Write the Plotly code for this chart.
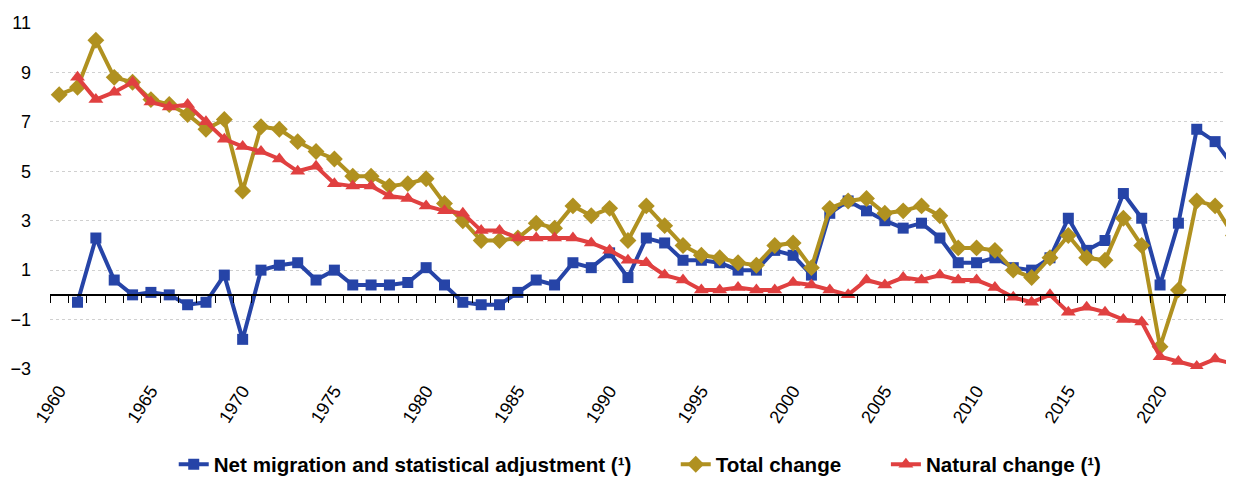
import plotly.graph_objects as go

years = list(range(1960, 2025))

net_migration = [None, -0.3, 2.3, 0.6, 0.0, 0.1, 0.0, -0.4, -0.3, 0.8,
                 -1.8, 1.0, 1.2, 1.3, 0.6, 1.0, 0.4, 0.4, 0.4, 0.5,
                 1.1, 0.4, -0.3, -0.4, -0.4, 0.1, 0.6, 0.4, 1.3, 1.1,
                 1.7, 0.7, 2.3, 2.1, 1.4, 1.4, 1.3, 1.0, 1.0, 1.8,
                 1.6, 0.8, 3.3, 3.8, 3.4, 3.0, 2.7, 2.9, 2.3, 1.3,
                 1.3, 1.5, 1.1, 1.0, 1.5, 3.1, 1.8, 2.2, 4.1, 3.1,
                 0.4, 2.9, 6.7, 6.2, 5.2]

total_change = [8.1, 8.4, 10.3, 8.8, 8.6, 7.9, 7.7, 7.3, 6.7, 7.1,
                4.2, 6.8, 6.7, 6.2, 5.8, 5.5, 4.8, 4.8, 4.4, 4.5,
                4.7, 3.7, 3.0, 2.2, 2.2, 2.3, 2.9, 2.7, 3.6, 3.2,
                3.5, 2.2, 3.6, 2.8, 2.0, 1.6, 1.5, 1.3, 1.2, 2.0,
                2.1, 1.1, 3.5, 3.8, 3.9, 3.3, 3.4, 3.6, 3.2, 1.9,
                1.9, 1.8, 1.0, 0.7, 1.5, 2.4, 1.5, 1.4, 3.1, 2.0,
                -2.1, 0.2, 3.8, 3.6, 2.4]

natural_change = [None, 8.8, 7.9, 8.2, 8.6, 7.8, 7.6, 7.7, 7.0, 6.3,
                  6.0, 5.8, 5.5, 5.0, 5.2, 4.5, 4.4, 4.4, 4.0, 3.9,
                  3.6, 3.4, 3.3, 2.6, 2.6, 2.3, 2.3, 2.3, 2.3, 2.1,
                  1.8, 1.4, 1.3, 0.8, 0.6, 0.2, 0.2, 0.3, 0.2, 0.2,
                  0.5, 0.4, 0.2, 0.0, 0.6, 0.4, 0.7, 0.6, 0.8, 0.6,
                  0.6, 0.3, -0.1, -0.3, 0.0, -0.7, -0.5, -0.7, -1.0, -1.1,
                  -2.5, -2.7, -2.9, -2.6, -2.8]

label_years = list(range(1960, 2021, 5))
label_text = [str(y) for y in label_years]
y_ticks = [-3, -1, 1, 3, 5, 7, 9, 11]
minor_ticks = [y - 0.5 for y in range(1960, 2026)]

BLUE = "#2644A7"
GOLD = "#B09120"
RED = "#E04040"
FONT = "Liberation Sans, Arial, sans-serif"

fig = go.Figure()
# invisible helper trace so the zero-line axis (x2) with its tick marks is rendered
fig.add_trace(go.Scatter(
    x=years, y=total_change, xaxis="x2", mode="lines", opacity=0,
    line=dict(width=0), showlegend=False, hoverinfo="skip"))
fig.add_trace(go.Scatter(
    x=years, y=net_migration, name="Net migration and statistical adjustment (¹)",
    mode="lines+markers", line=dict(color=BLUE, width=4), legend="legend",
    marker=dict(symbol="square", size=11, color=BLUE)))
fig.add_trace(go.Scatter(
    x=years, y=total_change, name="Total change",
    mode="lines+markers", line=dict(color=GOLD, width=4), legend="legend2",
    marker=dict(symbol="diamond", size=13, color=GOLD)))
fig.add_trace(go.Scatter(
    x=years, y=natural_change, name="Natural change (¹)",
    mode="lines+markers", line=dict(color=RED, width=4), legend="legend3",
    marker=dict(symbol="triangle-up", size=13, color=RED)))

x_range = [1959.5, 2024.03]
y_range = [-3, 11]

legend_font = dict(family=FONT, size=20.6, color="#000000", weight="bold")
legend_common = dict(orientation="h", y=-0.2757, yanchor="middle", xanchor="left",
                     font=legend_font, bgcolor="rgba(0,0,0,0)")

fig.update_layout(
    width=1226, height=477,
    margin=dict(l=42, r=0, t=15, b=114, pad=0),
    paper_bgcolor="white", plot_bgcolor="white",
    font=dict(family=FONT, size=18, color="#000000"),
    showlegend=True,
    legend=dict(x=0.1045, **legend_common),
    legend2=dict(x=0.5285, **legend_common),
    legend3=dict(x=0.706, **legend_common),
    xaxis=dict(range=x_range, tickmode="array", tickvals=label_years, ticktext=label_text,
               tickangle=-57, showgrid=False, zeroline=False, showline=False, ticks="",
               tickfont=dict(size=18), ticklabelstandoff=7, automargin=False),
    xaxis2=dict(range=x_range, overlaying="x", anchor="free", position=3 / 14, side="bottom",
                showline=True, linecolor="#000000", linewidth=2, ticks="outside",
                tickmode="array", tickvals=minor_ticks, ticklen=7, tickwidth=1,
                tickcolor="#000000", showticklabels=False, showgrid=False, zeroline=False,
                automargin=False),
    yaxis=dict(range=y_range, tickmode="array", tickvals=y_ticks, showgrid=True,
               gridcolor="#d0d0d0", griddash="dot", gridwidth=1, zeroline=False,
               showline=False, ticks="", tickfont=dict(size=18), ticklabelstandoff=18,
               automargin=False),
)

fig.write_html("out.html")
